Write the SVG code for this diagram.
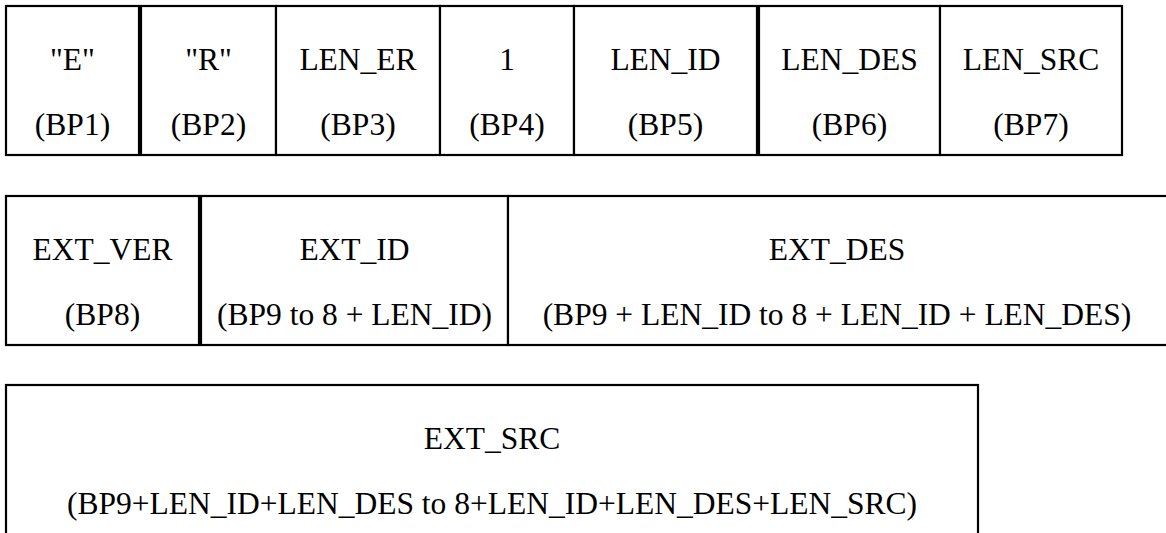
<svg xmlns="http://www.w3.org/2000/svg" width="1166" height="533" viewBox="0 0 1166 533">
<style>
  .cell { fill: #ffffff; stroke: #000000; stroke-width: 2.2; }
  .t { font-family: "Times New Roman", Times, "Liberation Serif", Tinos, "Noto Serif", "DejaVu Serif", FreeSerif, serif; font-size: 31.5px; fill: #000000; text-anchor: middle; }
</style>
<rect x="0" y="0" width="1166" height="533" fill="#ffffff"/>
<g id="row1">
  <g id="bp1"><rect class="cell" x="6" y="6" width="133" height="149"/><text class="t" x="72.5" y="70">"E"</text><text class="t" x="72.5" y="135">(BP1)</text></g>
  <g id="bp2"><rect class="cell" x="141" y="6" width="135" height="149"/><text class="t" x="208.5" y="70">"R"</text><text class="t" x="208.5" y="135">(BP2)</text></g>
  <g id="bp3"><rect class="cell" x="276" y="6" width="164" height="149"/><text class="t" x="358" y="70">LEN_ER</text><text class="t" x="358" y="135">(BP3)</text></g>
  <g id="bp4"><rect class="cell" x="440" y="6" width="134" height="149"/><text class="t" x="507" y="70">1</text><text class="t" x="507" y="135">(BP4)</text></g>
  <g id="bp5"><rect class="cell" x="574" y="6" width="183" height="149"/><text class="t" x="665.5" y="70">LEN_ID</text><text class="t" x="665.5" y="135">(BP5)</text></g>
  <g id="bp6"><rect class="cell" x="759" y="6" width="181" height="149"/><text class="t" x="849.5" y="70">LEN_DES</text><text class="t" x="849.5" y="135">(BP6)</text></g>
  <g id="bp7"><rect class="cell" x="940" y="6" width="182" height="149"/><text class="t" x="1031" y="70">LEN_SRC</text><text class="t" x="1031" y="135">(BP7)</text></g>
</g>
<g id="row2">
  <g id="bp8"><rect class="cell" x="6" y="196" width="193" height="149"/><text class="t" x="102.5" y="260">EXT_VER</text><text class="t" x="102.5" y="325">(BP8)</text></g>
  <g id="ext_id"><rect class="cell" x="201" y="196" width="307" height="149"/><text class="t" x="354.5" y="260">EXT_ID</text><text class="t" x="354.5" y="325">(BP9 to 8 + LEN_ID)</text></g>
  <g id="ext_des"><rect class="cell" x="508" y="196" width="670" height="149"/><text class="t" x="837" y="260">EXT_DES</text><text class="t" x="837" y="325">(BP9 + LEN_ID to 8 + LEN_ID + LEN_DES)</text></g>
</g>
<g id="row3">
  <g id="ext_src"><rect class="cell" x="6" y="385" width="972" height="160"/><text class="t" x="492" y="449">EXT_SRC</text><text class="t" x="492" y="514">(BP9+LEN_ID+LEN_DES to 8+LEN_ID+LEN_DES+LEN_SRC)</text></g>
</g>
<g id="connectors"></g>
</svg>
